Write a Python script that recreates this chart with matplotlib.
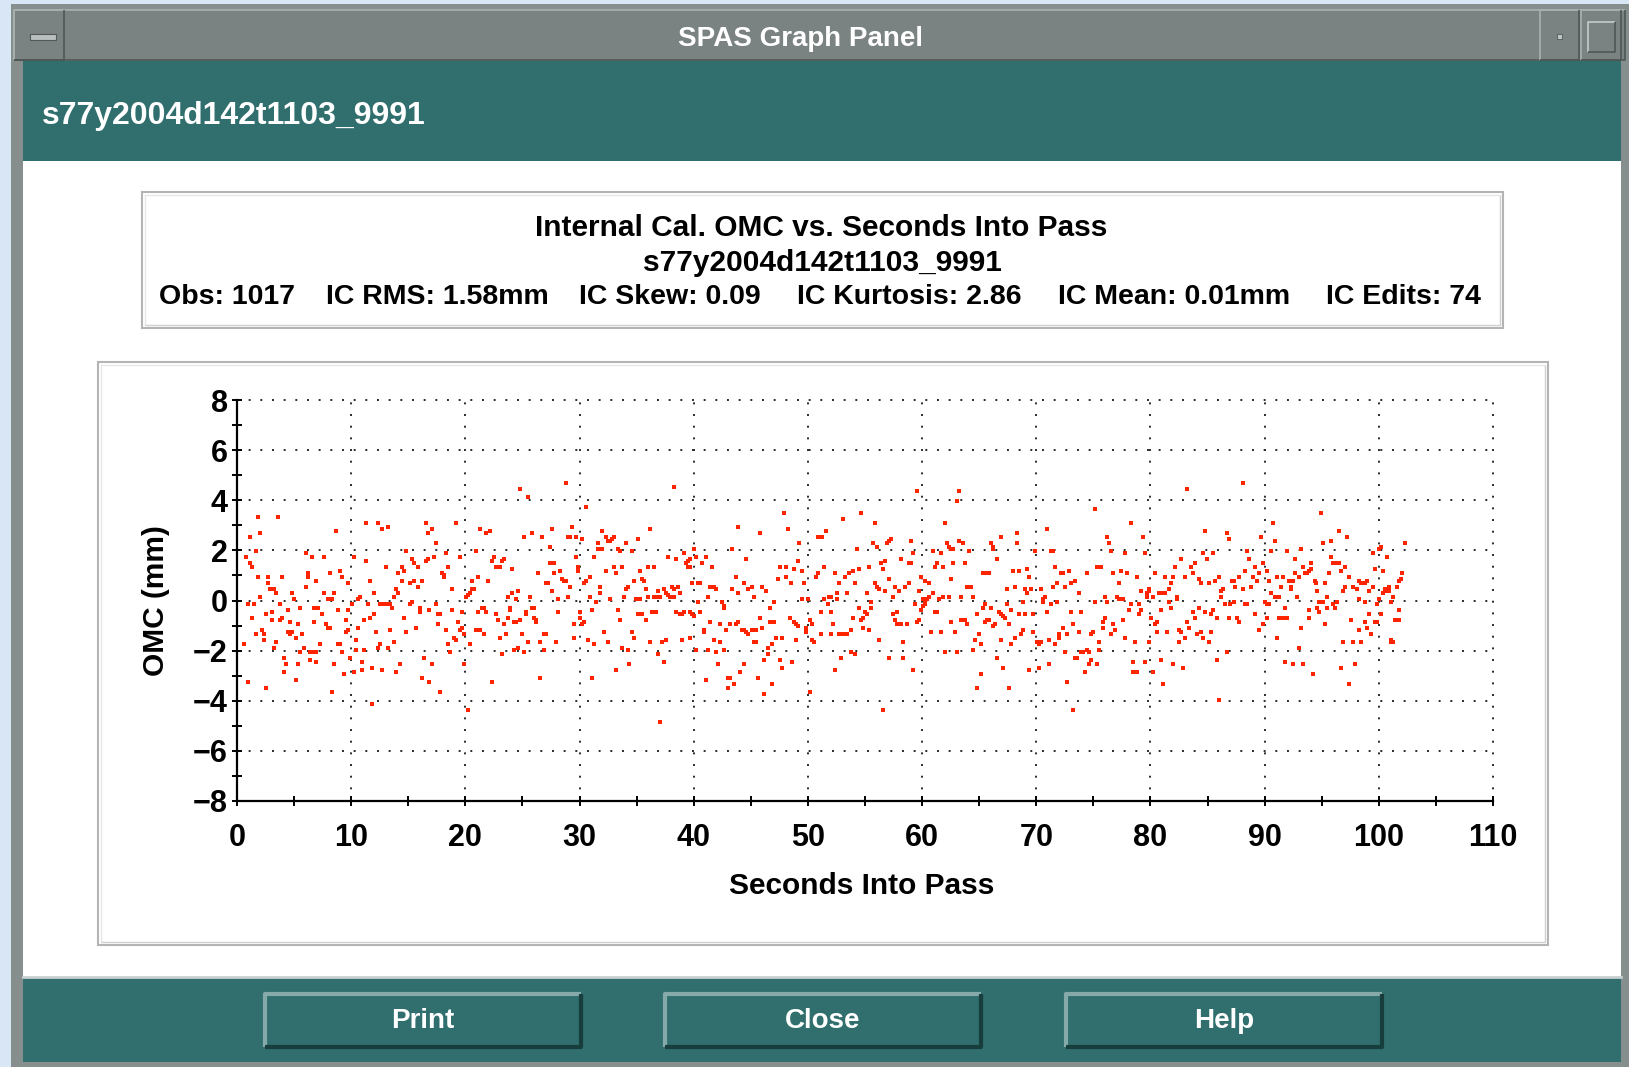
import matplotlib
matplotlib.use('Agg')
import matplotlib.pyplot as plt
from matplotlib.patches import Rectangle

plt.rcParams['font.family'] = ['Liberation Sans', 'DejaVu Sans']

# OMC residuals, (seconds into pass, OMC mm), in time slices
pts_00 = [(1.87,3.32),(3.62,3.32),(2.04,2.69),(1.17,2.52),(1.69,1.96),(0.79,1.72),(1.17,1.48),(1.34,1.32),(1.87,0.92),(2.04,0.12),
          (0.96,-0.12),(1.52,-0.12),(1.34,-0.68),(0.61,-1.72),(1.69,-1.32),(2.22,-1.19),(2.39,-1.32),(2.39,-1.56),(0.99,-3.24),(2.57,-3.48),
          (2.74,0.92),(2.74,0.68),(2.92,0.44),(3.27,0.44),(3.44,0.28),(3.97,0.92),(2.57,-0.52),(3.04,-0.44),(3.04,-0.76),(3.80,-0.12),
          (3.97,-0.68),(3.80,-0.76),(4.50,-0.36),(4.85,0.28),(5.02,0.04),(4.67,-0.84),(4.50,-1.24),(4.67,-1.32),(4.85,-1.24),(3.44,-1.64),
          (3.27,-1.88),(4.15,-2.28),(4.32,-2.52),(4.15,-2.84),(5.20,-3.16),(5.55,-0.28),(5.37,-0.92),(5.20,-1.48),(5.72,-1.32),(5.55,-2.04),
          (5.90,-1.88),(5.37,-2.52),(6.07,1.88),(6.60,1.72),(6.25,1.08),(6.25,0.92),(6.07,0.52),(6.90,0.76),(6.77,-0.28),(7.12,-0.28),
          (7.47,-0.52),(6.77,-0.84),(6.42,-2.04),(6.77,-2.04),(6.95,-2.04),(6.42,-2.36),(6.95,-2.44),(7.30,-1.72),(7.65,1.72),(7.65,0.28),
          (8.00,0.04),(8.35,0.04),(8.53,0.28),(8.18,1.08),(9.04,1.16),(9.23,0.92),(9.76,0.68),(8.70,2.76),(7.82,-0.92),(8.00,-1.08),
          (8.18,-1.08),(8.88,-0.36),(9.76,-0.36),(9.58,-0.76),(9.58,-1.24),(9.76,-1.16),(8.88,-1.72),(9.05,-1.72),(9.23,-2.04),(8.53,-2.52),
          (9.40,-2.92),(8.35,-3.64),(9.93,-2.28),(10.28,-2.84),(10.10,-0.12),(10.28,1.72),(10.63,0.04),(10.80,0.12),(10.45,-1.56),(10.45,-1.96),
          (10.63,-1.08),(10.98,-2.44),(10.98,-2.76),(11.16,-1.96),(11.16,-0.76),(11.33,3.08),(11.33,1.56),(11.68,0.76),(11.50,-0.12),(11.68,-0.68),
          (12.03,-0.52),(12.03,0.28),(11.85,-2.68),(11.85,-4.12),(12.38,3.08),(12.73,2.84),(13.26,2.92),(13.08,1.32),(12.20,-1.24),(12.38,-1.88),
          (12.55,-1.72),(12.55,-0.12),(12.73,-0.12),(12.90,-0.12),(13.08,-0.12),(13.26,-0.12),(13.43,-0.12),(13.61,-0.28),(13.78,0.12),(13.43,-1.16),
          (13.26,-1.88),(12.73,-2.76),(13.78,-1.64),(13.96,-2.84),(14.31,-2.52),(13.96,0.44),(14.13,0.28),(14.13,1.08),(14.48,1.32),(14.66,1.16),
          (14.48,0.76),(14.83,1.96),(14.66,-0.68),(14.83,-1.24),(15.18,0.68),(15.53,0.76),(15.36,1.64),(15.53,1.48),(15.88,1.32),(15.88,0.52),
          (16.23,0.76),(15.18,-0.12),(15.36,-0.04),(16.06,-0.28),(16.06,-0.44),(15.71,-1.08),(16.41,-2.28),(16.23,-3.08),(16.58,3.08),(16.76,2.68),
          (16.58,1.56),(16.76,1.64),(16.85,-0.36),(16.85,-3.24)]

pts_17 = [(17.10,2.84),(17.45,2.28),(17.28,1.72),(18.33,1.88),(18.51,1.32),(17.98,1.08),(18.16,1.00),(18.16,0.92),(18.86,0.44),(19.21,3.08),
          (19.56,1.72),(17.45,-0.12),(17.63,-0.52),(17.81,-0.52),(18.86,-0.36),(17.63,-0.92),(18.33,-1.16),(18.51,-1.72),(18.68,-2.04),(19.03,-1.48),
          (19.21,-1.56),(19.38,-0.84),(19.56,-1.16),(19.73,-1.08),(19.73,-0.44),(19.91,-1.32),(17.10,-2.52),(17.81,-3.64),(19.91,-2.52),(20.26,-4.36),
          (20.43,-1.72),(20.08,0.12),(20.26,0.20),(20.43,0.28),(20.61,0.44),(20.78,0.44),(20.61,0.76),(21.13,0.92),(20.96,1.96),(21.31,2.84),
          (21.83,2.68),(22.18,2.76),(22.01,0.76),(21.13,-0.44),(21.48,-0.28),(21.66,-0.28),(21.83,-0.44),(20.96,-1.16),(21.13,-1.16),(21.31,-1.16),
          (21.66,-1.32),(22.36,-3.24),(22.36,1.56),(22.54,1.72),(22.71,1.32),(22.89,1.32),(23.06,1.32),(23.24,1.56),(23.41,1.64),(24.11,1.24),
          (22.71,-0.52),(22.89,-0.76),(23.06,-1.48),(23.24,-2.12),(23.59,-1.32),(23.41,-0.92),(23.76,-0.68),(23.94,-0.28),(23.94,-0.36),(23.76,0.12),
          (24.11,0.28),(24.46,0.04),(24.29,-0.84),(24.46,-0.84),(24.64,0.36),(24.81,-0.76),(24.99,-1.32),(24.29,-1.96),(24.64,-1.88),(25.16,-2.04),
          (24.81,4.44),(25.51,4.12),(25.16,2.52),(25.86,2.68),(25.69,0.12),(25.34,-0.44),(25.34,-0.52),(25.51,-1.64),(25.86,-0.28),(26.04,-0.28),
          (26.04,-0.68),(26.21,-0.76),(26.21,-0.84),(26.39,1.08),(26.56,-1.64),(26.56,-3.08),(26.74,2.52),(26.91,-1.32),(27.09,-1.32),(26.91,-1.96),
          (27.27,0.68),(27.09,0.68),(27.44,2.12),(27.44,1.48),(27.62,1.48),(27.79,1.48),(27.62,2.84),(27.62,0.36),(27.79,1.08),(27.97,-1.64),
          (28.14,0.04),(28.14,-0.44),(28.32,1.16),(28.49,0.84),(28.67,0.76),(28.84,0.76),(28.84,4.68),(29.19,0.52),(29.02,0.12),(29.02,2.52),
          (29.19,2.52),(29.37,2.92),(29.72,2.52),(29.54,-0.92),(29.54,-1.48),(29.72,1.72),(29.89,1.32),(29.89,1.16),(30.24,2.44),(30.59,3.72),
          (30.07,-0.44),(30.07,-0.68),(30.24,-0.92),(30.42,-0.84),(30.42,0.68),(30.59,0.76),(30.77,-1.56),(30.94,0.92),(30.94,0.12),(31.12,-0.36),
          (31.12,-3.08),(31.29,1.72),(31.29,-1.72),(31.64,2.28),(31.64,2.04),(31.82,2.04),(32.00,2.04),(31.82,0.52),(31.82,0.28),(31.47,-0.04),
          (32.00,2.76),(32.17,-1.24),(32.35,2.52),(32.52,2.36),(32.70,2.36),(32.87,2.44),(33.05,2.52),(32.35,1.16),(32.70,0.04),(32.52,-1.64),
          (33.05,1.32),(33.22,1.08),(33.40,2.04),(33.57,1.96),(33.75,1.32),(33.40,-0.36),(33.57,-0.76),(33.75,-1.88),(33.22,-2.76),(34.10,2.28),
          (34.10,0.44),(34.27,0.52),(33.92,0.12),(34.27,-1.96),(34.36,-2.52)]

pts_34 = [(38.28,4.52),(34.60,1.96),(35.13,2.44),(36.18,2.84),(34.78,0.76),(35.31,1.16),(35.48,0.84),(35.66,0.76),(35.83,0.44),(36.01,1.32),
          (36.53,1.32),(34.95,0.04),(35.13,0.04),(35.31,0.04),(36.01,0.12),(36.53,0.12),(36.71,0.12),(36.88,0.12),(37.06,0.12),(36.88,0.36),
          (37.41,0.44),(37.58,0.28),(37.76,0.20),(37.93,0.12),(38.11,0.12),(38.28,0.12),(38.11,0.52),(38.28,0.44),(38.63,0.52),(38.81,0.28),
          (35.13,-0.52),(35.31,-0.52),(35.48,-0.52),(35.83,-0.76),(36.36,-0.44),(36.53,-0.44),(36.71,-0.44),(34.60,-1.24),(34.78,-1.48),(36.18,-1.64),
          (36.88,-2.12),(37.23,-1.64),(37.58,-1.56),(37.41,-2.44),(37.06,-4.84),(37.76,1.72),(38.46,1.64),(39.16,1.88),(39.33,1.48),(39.51,1.56),
          (39.68,1.64),(39.51,1.32),(39.68,1.32),(38.46,-0.44),(38.81,-0.52),(38.98,-0.52),(39.16,-0.44),(38.98,-1.56),(39.68,-0.44),(39.86,-0.52),
          (39.68,-1.48),(40.04,2.04),(40.21,1.72),(39.86,0.68),(40.39,0.68),(40.56,0.68),(40.04,-0.60),(40.39,-0.04),(40.56,-0.44),(40.21,-1.96),
          (41.09,1.72),(40.74,1.48),(41.61,1.32),(41.44,0.52),(41.26,0.12),(41.79,0.52),(41.96,0.44),(41.44,-0.84),(40.91,-1.16),(40.91,-1.24),
          (41.26,-1.96),(41.09,-3.16),(41.79,-1.56),(41.96,-2.04),(42.31,-1.64),(42.14,-2.52),(42.31,-0.92),(42.49,-0.04),(42.66,-0.20),(42.66,-0.28),
          (42.84,-1.16),(42.66,-1.96),(43.19,-0.92),(43.01,-3.08),(43.19,-3.08),(43.01,-3.48),(43.54,-3.32),(43.36,0.44),(43.36,2.04),(43.71,0.92),
          (43.89,0.28),(43.89,2.92),(43.71,-0.92),(43.89,-0.84),(44.06,-2.84),(44.24,-1.16),(44.41,-1.16),(44.59,1.64),(44.41,0.68),(44.76,0.44),
          (45.12,0.52),(44.59,-1.24),(44.76,-1.32),(44.41,-2.52),(45.12,-1.16),(45.29,-1.16),(45.47,-1.16),(45.29,0.12),(45.29,-1.64),(45.47,-1.64),
          (45.64,-3.08),(45.82,2.68),(45.82,-0.68),(45.99,0.52),(45.99,-1.08),(46.34,0.36),(46.17,-2.36),(46.17,-3.72),(46.52,-1.88),(46.52,-2.12),
          (46.69,-0.28),(46.69,-0.84),(46.87,-0.84),(47.04,-0.84),(46.87,-1.72),(46.87,-3.32),(47.04,-0.04),(47.22,-1.48),(47.39,0.84),(47.57,1.32),
          (47.74,-1.48),(47.57,-2.36),(47.74,-2.68),(47.92,3.48),(48.09,1.32),(48.09,0.92),(48.27,2.84),(48.44,-0.68),(48.50,0.68),(48.62,-2.47),
          (48.79,1.24),(48.79,-0.84),(48.97,-0.92),(49.14,-1.00),(48.97,-1.56),(49.14,1.56),(49.20,2.28),(49.49,1.16),(49.49,0.04),(49.67,0.68),
          (49.84,-1.08),(49.84,-1.24),(50.02,0.04),(50.20,-0.76),(50.37,-0.92),(50.37,-1.56),(50.55,-1.64),(50.20,-3.64),(50.72,0.92),(50.90,1.08),
          (50.90,2.52),(51.07,2.52),(51.25,2.52),(51.42,1.32),(51.60,2.76),(51.42,0.04),(51.77,-0.12),(51.86,0.12),(51.13,-0.44),(51.13,-1.32)]

pts_52 = [(52.34,1.08),(52.69,0.68),(52.51,0.28),(52.51,0.04),(51.99,0.12),(51.99,-0.44),(52.16,-0.92),(51.99,-1.32),(52.69,-1.32),(52.86,-1.32),
          (53.04,-1.32),(53.21,-1.32),(53.39,-1.32),(52.86,-2.28),(52.34,-2.76),(53.04,3.24),(53.21,0.92),(53.56,1.08),(53.91,1.16),(53.39,0.28),
          (53.91,-0.68),(53.74,-1.16),(53.74,-2.04),(54.09,-2.12),(54.09,0.68),(54.26,2.04),(54.44,1.24),(54.62,3.48),(54.44,-0.28),(54.62,-0.76),
          (54.79,-0.68),(54.97,-0.44),(55.14,-0.52),(54.79,-1.08),(55.32,-1.16),(55.14,0.28),(55.32,1.32),(55.49,-0.04),(55.49,-0.28),(55.84,3.08),
          (55.67,2.28),(56.02,2.12),(55.84,0.68),(56.02,0.52),(56.19,0.44),(56.19,-1.56),(56.37,1.48),(56.54,1.24),(56.72,1.56),(56.54,-4.36),
          (56.72,0.36),(56.89,2.28),(57.07,2.36),(57.24,2.44),(57.07,0.84),(57.07,-2.28),(57.42,0.12),(57.42,-0.52),(57.77,-0.44),(57.59,0.52),
          (57.59,-0.76),(57.77,-0.92),(57.94,-0.92),(58.12,-0.92),(57.94,0.36),(58.12,1.64),(58.29,-1.64),(58.29,-2.28),(58.47,0.52),(58.64,-0.92),
          (58.82,1.48),(58.99,1.48),(58.82,0.68),(58.99,2.36),(59.17,1.88),(59.17,-2.76),(59.35,-0.12),(59.52,4.36),(59.52,-0.84),(59.70,-0.76),
          (59.70,0.36),(59.87,0.92),(60.22,0.76),(60.57,0.68),(59.87,-0.36),(60.05,0.04),(60.22,-0.04),(60.22,-0.12),(60.40,0.04),(60.57,0.12),
          (60.05,-0.20),(60.75,-1.24),(60.92,1.96),(60.92,0.28),(61.10,1.32),(61.27,1.48),(61.10,-0.44),(61.27,-0.44),(61.45,0.04),(61.62,1.88),
          (61.62,-1.24),(61.80,1.32),(61.80,0.12),(61.97,3.08),(61.97,-2.04),(62.15,2.28),(62.32,2.12),(62.50,2.04),(62.67,2.04),(62.32,0.12),
          (62.50,0.84),(62.50,-0.84),(62.67,1.48),(62.85,-1.24),(63.02,3.96),(63.20,4.36),(63.02,-2.04),(63.20,2.36),(63.55,2.28),(63.37,0.12),
          (63.37,-0.76),(63.55,-0.76),(63.72,-0.76),(63.72,1.48),(63.90,0.52),(64.07,0.52),(64.25,0.52),(63.90,-0.92),(64.07,1.96),(64.43,0.12),
          (64.43,-1.96),(64.60,-1.56),(64.78,-0.52),(64.78,-3.48),(64.95,-1.32),(65.13,-1.72),(65.13,-2.92),(65.30,1.08),(65.48,1.08),(65.65,1.08),
          (65.83,1.08),(65.30,-0.28),(65.48,-0.12),(65.48,-0.84),(65.65,-0.76),(66.00,2.28),(66.18,2.12),(66.18,2.04),(65.83,-0.76),(66.00,-0.28),
          (66.18,-1.00),(66.35,-0.92),(66.53,1.64),(66.53,-2.28),(66.70,-0.44),(66.88,2.52),(66.88,-1.56),(66.88,-0.52),(67.05,-0.60),(67.23,-0.68),
          (67.05,-2.68),(67.40,0.44),(67.40,-0.12),(67.58,-0.92),(67.58,-3.48),(67.75,-0.36),(67.75,-1.72),(67.93,1.16),(68.10,0.52),(68.10,-1.48),
          (68.28,2.68),(68.28,2.28),(68.45,1.16),(68.45,-0.52),(68.63,-1.32),(68.80,-1.16),(68.80,-0.04),(68.98,0.44),(68.98,-0.52),(69.16,0.28),
          (69.16,1.24),(69.33,-2.76),(69.36,0.92)]

pts_69 = [(69.89,1.96),(69.54,0.44),(69.71,-0.52),(69.71,-1.24),(70.06,-1.64),(70.24,-1.72),(70.41,-1.64),(70.24,-2.68),(70.41,0.44),(70.59,0.04),
          (70.76,0.12),(70.59,-0.04),(70.94,2.84),(70.94,-0.44),(71.11,-1.56),(71.11,-2.52),(71.29,1.96),(71.46,1.96),(71.29,-0.12),(71.46,0.52),
          (71.64,1.32),(71.64,-1.72),(71.81,0.68),(71.81,-0.04),(71.99,-1.32),(71.99,-1.48),(72.17,1.08),(72.34,1.08),(72.34,-1.08),(72.52,0.52),
          (72.52,-2.04),(72.69,-1.32),(72.69,-3.24),(72.87,1.16),(73.04,0.68),(73.04,-0.44),(73.22,-0.92),(73.22,-4.36),(73.39,0.76),(73.39,-2.28),
          (73.57,-2.28),(73.74,0.28),(73.74,-1.24),(73.92,-0.44),(73.92,-2.04),(74.09,-2.04),(74.27,-2.84),(74.44,1.08),(74.44,-1.96),(74.62,-2.04),
          (74.62,-2.52),(74.79,-2.36),(74.79,-1.32),(74.97,-1.24),(75.14,3.64),(75.14,-0.04),(75.32,1.32),(75.49,1.32),(75.67,1.32),(75.32,-2.52),
          (75.49,-1.64),(75.49,-1.96),(75.84,-0.84),(75.84,-1.08),(76.02,0.12),(76.19,-0.04),(76.02,-0.68),(76.19,2.52),(76.37,2.28),(76.54,1.96),
          (76.54,-1.32),(76.72,1.08),(76.72,-0.92),(76.90,-1.16),(77.07,0.12),(77.25,0.04),(77.42,0.04),(77.60,0.04),(77.25,0.68),(77.42,1.16),
          (77.60,-0.76),(77.77,1.88),(77.77,-1.48),(77.95,1.08),(78.12,-0.36),(78.30,3.08),(78.30,-0.12),(78.47,-2.44),(78.47,-2.84),(78.65,-2.84),
          (78.82,-2.84),(78.65,-1.64),(78.82,0.92),(79.00,-0.12),(79.00,-0.52),(79.17,-0.36),(79.17,0.36),(79.35,2.52),(79.52,1.88),(79.52,-2.44),
          (79.70,0.28),(79.70,0.12),(79.87,0.44),(79.87,0.36),(79.87,-1.64),(80.05,-0.68),(80.22,-2.84),(80.22,0.12),(80.40,1.08),(80.40,-0.92),
          (80.57,-0.84),(80.57,-1.24),(80.75,0.28),(80.92,0.28),(81.10,0.28),(81.27,0.28),(80.92,-0.36),(80.92,-2.36),(81.10,-3.32),(81.27,0.92),
          (81.45,-1.24),(81.62,-0.04),(81.62,0.44),(81.80,0.68),(81.80,-0.28),(81.97,0.92),(81.97,-2.52),(82.15,1.32),(82.33,0.12),(82.33,0.04),
          (82.50,-1.16),(82.50,-1.64),(82.67,1.64),(82.67,-1.24),(82.85,-2.68),(83.03,0.92),(83.03,-1.48),(83.20,4.44),(83.20,-0.84),(83.38,-1.08),
          (83.55,1.32),(83.73,1.08),(83.73,-0.44),(83.90,1.48),(83.90,-0.68),(84.08,-1.32),(84.25,0.84),(84.25,-0.28),(84.43,0.68),(84.43,-1.24),
          (84.60,1.88),(84.60,-1.48),(84.78,2.76),(84.78,-0.44),(84.95,1.64),(85.13,0.68),(85.13,-1.64),(85.30,-0.52),(85.30,-1.24),(85.48,1.88),
          (85.48,-0.36),(85.65,0.76),(85.83,-0.68),(85.83,-2.36),(86.00,0.92),(86.00,-3.96),(86.18,0.36),(86.18,0.12),(86.35,0.44),(86.53,-0.12),
          (86.70,2.68),(86.88,2.44),(86.70,-2.04),(86.88,-0.68)]

pts_87 = [(88.14,4.68),(87.17,0.76),(87.35,0.76),(87.44,0.52),(87.00,-0.12),(87.35,-0.04),(87.61,-0.68),(87.79,-0.84),(87.79,0.92),(88.14,0.44),
          (88.31,1.16),(88.49,1.96),(88.66,1.64),(88.31,-0.12),(88.49,-0.12),(88.84,0.52),(89.01,0.92),(89.19,1.32),(89.36,0.76),(89.19,-0.52),
          (89.54,1.08),(89.54,-1.16),(89.71,2.52),(89.89,1.48),(89.89,-0.92),(90.06,-0.04),(90.24,-0.12),(90.42,-0.12),(90.24,1.16),(90.24,-0.68),
          (90.42,0.76),(90.59,1.96),(90.59,0.28),(90.77,3.08),(90.94,2.36),(90.94,0.12),(91.12,0.12),(91.29,0.12),(91.12,0.92),(91.12,-1.48),
          (91.29,-0.68),(91.47,-0.68),(91.64,-0.68),(91.82,-0.68),(91.99,-0.68),(91.47,0.52),(91.64,0.92),(91.82,-0.28),(91.82,-2.44),(91.99,1.96),
          (92.17,0.76),(92.34,0.76),(92.52,0.76),(92.34,0.52),(92.34,0.44),(92.52,-2.52),(92.69,1.64),(92.69,1.08),(92.87,0.12),(93.04,0.92),
          (93.04,-1.88),(93.22,2.04),(93.22,-1.08),(93.39,1.32),(93.39,-2.52),(93.57,1.08),(93.74,1.08),(93.92,1.16),(93.92,-0.36),(93.92,-0.68),
          (94.09,1.24),(94.09,1.48),(94.27,-2.92),(94.44,0.76),(94.53,0.68),(94.62,0.36),(94.62,-0.28),(94.80,-0.44),(94.80,-0.04),(94.97,-0.04),
          (95.14,-0.04),(94.97,3.48),(95.14,2.28),(95.32,0.68),(95.32,-0.92),(95.50,0.12),(95.50,-0.28),(95.67,1.08),(95.85,2.36),(95.85,1.72),
          (96.02,1.48),(96.20,1.48),(96.37,1.48),(96.55,1.48),(96.02,-0.12),(96.20,-0.28),(96.37,-0.04),(96.55,2.76),(96.72,1.16),(96.90,0.36),
          (96.90,-1.64),(96.72,-2.68),(97.07,1.32),(97.07,0.52),(97.25,2.52),(97.42,0.92),(97.42,-3.32),(97.60,-0.76),(97.77,0.52),(97.77,-1.64),
          (97.95,-2.52),(98.12,0.44),(98.30,0.76),(98.47,0.68),(98.65,0.68),(98.82,0.68),(98.99,0.76),(98.30,0.04),(98.30,-1.16),(98.47,-1.64),
          (98.82,-0.04),(98.82,-0.84),(98.99,-1.08),(99.17,0.36),(99.17,-0.52),(99.35,-1.32),(99.52,1.88),(99.52,0.52),(99.70,1.24),(99.70,-0.84),
          (99.87,-0.84),(99.87,-0.12),(100.05,0.04),(100.05,2.04),(100.22,2.12),(100.22,-0.52),(100.40,1.16),(100.40,0.28),(100.57,0.44),(100.75,0.36),
          (100.92,0.36),(100.92,0.52),(100.75,1.72),(101.10,-0.04),(101.27,0.12),(101.10,-1.56),(101.10,-1.64),(101.27,-1.64),(101.45,-0.76),(101.62,-0.76),
          (101.80,-0.76),(101.62,0.52),(101.80,0.76),(101.98,0.84),(102.07,1.08),(101.80,-0.36),(102.33,2.28)]

pass_id = 's77y2004d142t1103_9991'
stats = ['Obs: 1017', 'IC RMS: 1.58mm', 'IC Skew: 0.09', 'IC Kurtosis: 2.86', 'IC Mean: 0.01mm', 'IC Edits: 74']
buttons = ['Print', 'Close', 'Help']

allpts = pts_00 + pts_17 + pts_34 + pts_52 + pts_69 + pts_87
sec = [p[0] for p in allpts]
omc = [p[1] for p in allpts]

W, H = 1629, 1067
TEAL = '#316e6e'
fig = plt.figure(figsize=(W / 100, H / 100), dpi=100)

# background layer in pixel coordinates for the window chrome
bg = fig.add_axes([0, 0, 1, 1])
bg.set_xlim(0, W)
bg.set_ylim(H, 0)
bg.axis('off')


def box(x0, y0, x1, y1, fc, ec='none', lw=0):
    bg.add_patch(Rectangle((x0, y0), x1 - x0, y1 - y0, facecolor=fc, edgecolor=ec, linewidth=lw))


def bevel(x0, y0, x1, y1, light, dark, lw=1.5):
    bg.plot([x0, x0, x1], [y1, y0, y0], color=light, lw=lw, solid_capstyle='butt')
    bg.plot([x0, x1, x1], [y1, y1, y0], color=dark, lw=lw, solid_capstyle='butt')


box(0, 0, W, H, '#d8e6f6')
box(11, 4, W, H, '#868e8e')
# title bar
box(14, 10, 1625, 60, '#7a8282')
bevel(14, 10, 1625, 60, '#a9b0b0', '#4f5656', 1.2)
bevel(14, 10, 64, 60, '#a9b0b0', '#4f5656', 1.2)
box(30, 34, 56, 40, '#b9bfbf', '#505858', 0.8)
bevel(1540, 10, 1579, 60, '#a9b0b0', '#4f5656', 1.2)
box(1557, 34, 1562, 39, '#c0c6c6', '#505858', 0.6)
bevel(1581, 10, 1621, 60, '#a9b0b0', '#4f5656', 1.2)
bevel(1588, 22, 1615, 52, '#c6cccc', '#4f5656', 1.2)
bg.text(801, 39, 'SPAS Graph Panel', color='white', fontsize=20, fontweight='bold', ha='center', va='center')

# teal header and footer, white panel
box(23, 61, 1621, 161, TEAL)
bg.text(42, 116, pass_id, color='white', fontsize=23, fontweight='bold', ha='left', va='center')
box(23, 161, 1621, 977, 'white')
box(23, 977, 1621, 1062, TEAL)
bg.plot([23, 1621], [977, 977], color='#c8d0d0', lw=2)

# stats box
box(142, 192, 1503, 328, 'white', '#b4b4b4', 1.5)
bevel(145, 195, 1500, 325, '#e6e6e6', '#d0d0d0', 1.0)
bg.text(821, 228, 'Internal Cal. OMC vs. Seconds Into Pass', fontsize=21.5, fontweight='bold', ha='center', va='center')
bg.text(822, 263, pass_id, fontsize=21.5, fontweight='bold', ha='center', va='center')
for s, x in zip(stats, [159, 326, 579, 797, 1058, 1326]):
    bg.text(x, 297, s, fontsize=20.5, fontweight='bold', ha='left', va='center')

# plot frame
box(98, 362, 1548, 945, 'white', '#b4b4b4', 1.5)
bevel(101, 365, 1545, 942, '#e6e6e6', '#d0d0d0', 1.0)

# buttons
for lbl, x0 in zip(buttons, [265, 665, 1066]):
    box(x0, 994, x0 + 316, 1047, TEAL)
    bevel(x0, 994, x0 + 316, 1047, '#86aaaa', '#173d3d', 3)
    bg.text(x0 + 158, 1021, lbl, color='white', fontsize=20, fontweight='bold', ha='center', va='center')

# the scatter plot
ax = fig.add_axes([237 / W, 1 - 801 / H, (1493 - 237) / W, (801 - 400) / H])
ax.plot(sec, omc, 's', ms=3.4, color='#ff2400', mew=0, ls='none', zorder=3)
ax.set_xlim(0, 110)
ax.set_ylim(-8, 8)
ax.set_xticks(range(0, 111, 10))
ax.set_xticks(range(5, 111, 10), minor=True)
ax.set_yticks(range(-8, 9, 2))
ax.set_yticks(range(-7, 8, 2), minor=True)
for side in ['top', 'right']:
    ax.spines[side].set_visible(False)
for side in ['left', 'bottom']:
    ax.spines[side].set_linewidth(1.6)
ax.tick_params(which='both', direction='inout', length=7, width=1.4, labelsize=22)
ax.tick_params(axis='x', pad=12)
ax.tick_params(axis='y', pad=3)
for t in ax.get_xticklabels() + ax.get_yticklabels():
    t.set_fontweight('bold')
ax.grid(True, which='major', color='#2a2a2a', linestyle=(0, (1, 5)), linewidth=1.4)
for gl in ax.get_xgridlines() + ax.get_ygridlines():
    gl.set_clip_on(False)
ax.set_axisbelow(True)

ax.set_xlabel('Seconds Into Pass', fontsize=21.5, fontweight='bold')
ax.set_ylabel('OMC (mm)', fontsize=21.5, fontweight='bold')
ax.xaxis.label.set_va('center')
ax.yaxis.label.set_va('center')
ax.xaxis.set_label_coords(0.4976, -0.2115)
ax.yaxis.set_label_coords(-0.0645, 0.501)

fig.savefig('out.png', dpi=100)
